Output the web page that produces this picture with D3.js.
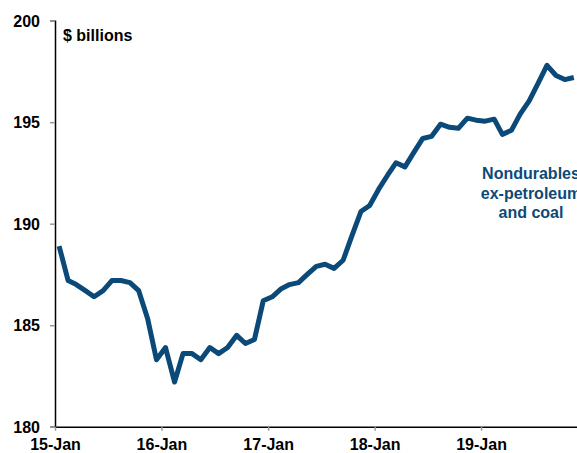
<!DOCTYPE html>
<html>
<head>
<meta charset="utf-8">
<script src="https://cdn.jsdelivr.net/npm/d3@7"></script>
<style>
  body { margin: 0; background: #fff; }
  svg text { font-family: "Liberation Sans", Arial, sans-serif; font-weight: bold; }
</style>
</head>
<body>
<div id="chart"></div>
<script>
// Chart size
const width = 577;
const height = 453;
const margin = { top: 20.7, left: 55, bottom: 26.3 };

// Monthly values, Jan 2015 onwards ($ billions)
const startMonth = "2015-01";
const values = [
  188.9, 187.2, 187.0, 186.7, 186.4, 186.7, 187.2, 187.2, 187.1, 186.7, 185.3, 183.3,
  183.9, 182.2, 183.6, 183.6, 183.3, 183.9, 183.6, 183.9, 184.5, 184.1, 184.3, 186.2,
  186.4, 186.8, 187.0, 187.1, 187.5, 187.9, 188.0, 187.8, 188.2, 189.4, 190.6, 190.9,
  191.7, 192.4, 193.0, 192.8, 193.5, 194.2, 194.3, 194.9, 194.75, 194.7, 195.2, 195.1,
  195.05, 195.15, 194.4, 194.6, 195.4, 196.05, 196.9, 197.8, 197.3, 197.1, 197.2
];

const yTicks = [180, 185, 190, 195, 200];
const xTickYears = [2015, 2016, 2017, 2018, 2019];
const xTickLabels = ["15-Jan", "16-Jan", "17-Jan", "18-Jan", "19-Jan"];
const seriesLabel = ["Nondurables", "ex-petroleum", "and coal"];

const lineColor = "#0b4a78";

const parse = d3.timeParse("%Y-%m");
const t0 = parse(startMonth);
const data = values.map((v, i) => {
  const d = d3.timeMonth.offset(t0, i);
  return { date: new Date(d.getFullYear(), d.getMonth(), 15), value: v };
});

const svg = d3.select("#chart")
  .append("svg")
  .attr("width", width)
  .attr("height", height);

// scales (one year is about 106.5 px)
const x = d3.scaleTime()
  .domain([new Date(2015, 0, 1), new Date(2020, 0, 1)])
  .range([margin.left, margin.left + 5 * 106.5]);

const y = d3.scaleLinear()
  .domain([180, 200])
  .range([height - margin.bottom, margin.top]);

// y axis
const yAxis = svg.append("g")
  .attr("transform", `translate(${margin.left},0)`)
  .call(d3.axisLeft(y).tickValues(yTicks).tickSize(5).tickPadding(10).tickFormat(d3.format("d")));
yAxis.select(".domain").attr("stroke", "#000").attr("stroke-width", 1.5);
yAxis.selectAll(".tick line").attr("stroke", "#999").attr("stroke-width", 1.5);
yAxis.selectAll(".tick text")
  .attr("fill", "#000")
  .style("font-size", "16px")
  .attr("dy", "0.34em");

// x axis
const xAxis = svg.append("g")
  .attr("transform", `translate(0,${y(180)})`)
  .call(d3.axisBottom(x)
    .tickValues(xTickYears.map(yr => new Date(yr, 0, 1)))
    .tickSize(4)
    .tickSizeOuter(0)
    .tickPadding(8)
    .tickFormat((d, i) => xTickLabels[i]));
xAxis.select(".domain").attr("stroke", "#000").attr("stroke-width", 1.5);
xAxis.selectAll(".tick line").attr("stroke", "#999").attr("stroke-width", 1.5);
xAxis.selectAll(".tick text")
  .attr("fill", "#000")
  .style("font-size", "16px");

// line
const line = d3.line()
  .x(d => x(d.date))
  .y(d => y(d.value));

svg.append("path")
  .datum(data)
  .attr("fill", "none")
  .attr("stroke", lineColor)
  .attr("stroke-width", 5)
  .attr("stroke-linejoin", "round")
  .attr("d", line);

// unit label
svg.append("text")
  .attr("x", 63)
  .attr("y", 41)
  .style("font-size", "16px")
  .attr("fill", "#000")
  .text("$ billions");

// series label (runs off the right edge, as in the original)
svg.append("text")
  .attr("text-anchor", "middle")
  .attr("fill", lineColor)
  .style("font-size", "16px")
  .selectAll("tspan")
  .data(seriesLabel)
  .enter()
  .append("tspan")
  .attr("x", 531)
  .attr("y", (d, i) => 179 + i * 19.5)
  .text(d => d);
</script>
</body>
</html>
